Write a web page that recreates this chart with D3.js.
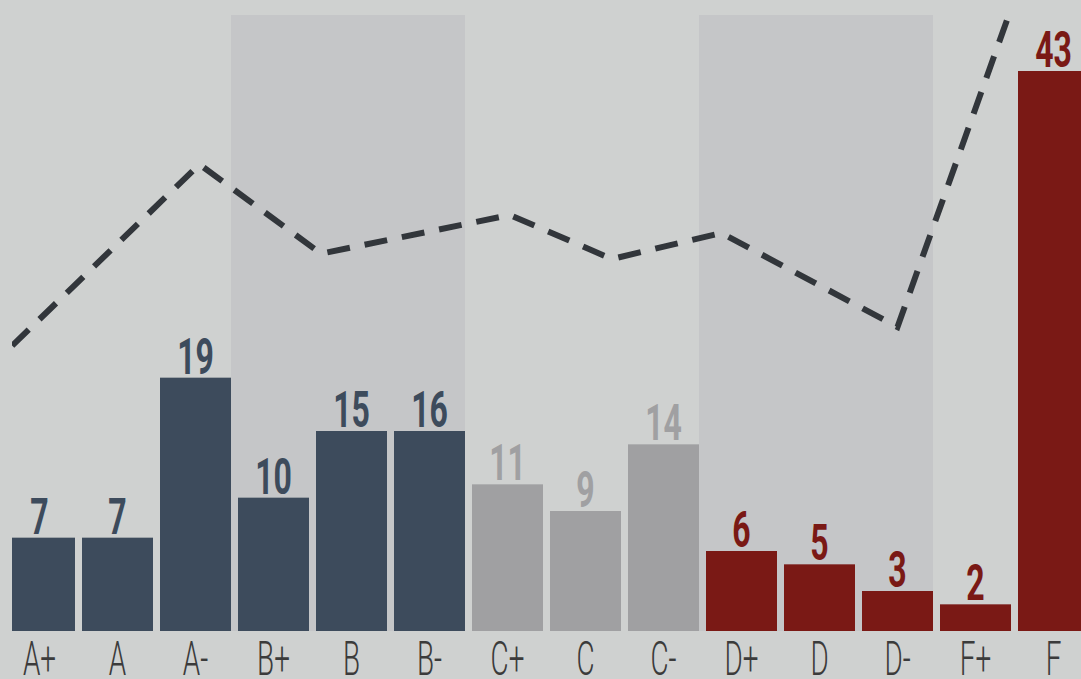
<!DOCTYPE html>
<html>
<head>
<meta charset="utf-8">
<script src="https://cdn.jsdelivr.net/npm/d3@7"></script>
<style>
  html, body { margin: 0; padding: 0; background: #cfd1d0; overflow: hidden; }
</style>
</head>
<body>
<div class="chart"></div>
<script>
// grades along the bottom
var grades = ["A+","A","A-","B+","B","B-","C+","C","C-","D+","D","D-","F+","F"];
var gradeGroups = ["A","A","A","B","B","B","C","C","C","D","D","D","F","F"];
// bar heights as drawn, and the numbers printed on top
var barValues = [7, 7, 19, 10, 15, 15, 11, 9, 14, 6, 5, 3, 2, 42];
var barLabels = ["7","7","19","10","15","16","11","9","14","6","5","3","2","43"];
// dashed line: position in grade units, value in bar units
var trendPos = [-0.35, 2.05, 3.61, 6.03, 7.34, 8.74, 11, 12.5];
var trendValues = [21.4, 35.0, 28.3, 31.2, 27.9, 29.85, 22.8, 47.4];
var shadedGroups = ["B", "D"];

var groupColor = {A: "#3d4b5c", B: "#3d4b5c", C: "#a0a0a2", D: "#7a1915", F: "#7a1915"};

var width = 1081, height = 679;
var baseY = 631;

var svg = d3.select(".chart").append("svg")
    .attr("width", width)
    .attr("height", height);

svg.append("rect")
    .attr("width", width).attr("height", height)
    .attr("fill", "#cfd1d0");

var x = d3.scaleBand()
    .domain(grades)
    .range([0.5, 1092.5])
    .paddingInner(7 / 78)
    .paddingOuter(3.5 / 78);

var bw = x.bandwidth();
var gap = x.step() - bw;

var y = d3.scaleLinear()
    .domain([0, 45])
    .range([baseY, 31]);

var xi = d3.scaleLinear()
    .domain([0, grades.length - 1])
    .range([x(grades[0]) + bw / 2, x(grades[grades.length - 1]) + bw / 2]);

svg.append("clipPath")
    .attr("id", "plot")
  .append("rect")
    .attr("x", 12).attr("y", 10)
    .attr("width", width - 12).attr("height", baseY - 10);

var plot = svg.append("g").attr("clip-path", "url(#plot)");

// shaded bands behind the B and D grades
shadedGroups.forEach(function(g) {
  var members = grades.filter(function(d, i) { return gradeGroups[i] == g; });
  var x0 = x(members[0]) - gap;
  var x1 = x(members[members.length - 1]) + bw;
  plot.append("rect")
      .attr("x", x0)
      .attr("y", 15)
      .attr("width", x1 - x0)
      .attr("height", baseY - 15)
      .attr("fill", "#c5c6c8");
});

plot.selectAll(".bar")
    .data(grades)
  .enter()
    .append("rect")
      .attr("class", "bar")
      .attr("x", function(d) { return x(d); })
      .attr("y", function(d, i) { return y(barValues[i]); })
      .attr("width", bw)
      .attr("height", function(d, i) { return baseY - y(barValues[i]); })
      .attr("fill", function(d, i) { return groupColor[gradeGroups[i]]; });

svg.selectAll(".num")
    .data(grades)
  .enter()
    .append("text")
      .attr("class", "num")
      .attr("transform", function(d, i) {
        var cx = Math.min(x(d) + bw / 2, 1053.5);
        return "translate(" + cx + "," + (y(barValues[i]) - 4) + ") scale(0.64,1)";
      })
      .attr("text-anchor", "middle")
      .style("font-family", "Roboto, sans-serif")
      .style("font-weight", "700")
      .style("font-size", "50px")
      .attr("fill", function(d, i) { return groupColor[gradeGroups[i]]; })
      .text(function(d, i) { return barLabels[i]; });

var valueline = d3.line()
    .x(function(d) { return xi(d[0]); })
    .y(function(d) { return y(d[1]); });

plot.append("path")
    .datum(trendPos.map(function(p, i) { return [p, trendValues[i]]; }))
    .attr("d", valueline)
    .attr("fill", "none")
    .attr("stroke", "#32363b")
    .attr("stroke-width", 6)
    .attr("stroke-dasharray", "23,15");

var axis = svg.append("g")
    .attr("transform", "translate(0," + baseY + ")")
    .call(d3.axisBottom(x).tickSize(0));

axis.select(".domain").remove();
axis.selectAll("text")
    .attr("y", 44)
    .attr("dy", 0)
    .attr("transform", "scale(0.58,1)")
    .style("font-family", "Roboto, sans-serif")
    .style("font-weight", "300")
    .style("font-size", "48px")
    .attr("fill", "#3b3b3b");
</script>
</body>
</html>
